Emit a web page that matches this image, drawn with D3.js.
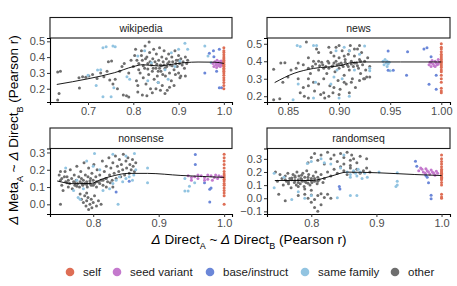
<!DOCTYPE html>
<html>
<head>
<meta charset="utf-8">
<script src="https://cdn.jsdelivr.net/npm/d3@7"></script>
<style>
  body { margin: 0; background: #fff; }
  svg text { font-family: "Liberation Sans", Arial, sans-serif; }
</style>
</head>
<body>
<div id="chart"></div>
<script>
// ---- data ----
const categories = ['self', 'seed variant', 'base/instruct', 'same family', 'other'];
const catColors = ['#DE6E55', '#C479CD', '#6B87D8', '#92C4E1', '#6E6E6E'];
const panelNames = ['wikipedia', 'news', 'nonsense', 'randomseq'];

const xTicks = {
  wikipedia: [0.7, 0.8, 0.9, 1.0],
  news: [0.85, 0.90, 0.95, 1.00],
  nonsense: [0.8, 0.9, 1.0],
  randomseq: [0.8, 0.9, 1.0]
};
const yTicks = {
  wikipedia: [0.2, 0.3, 0.4, 0.5],
  news: [0.2, 0.3, 0.4, 0.5],
  nonsense: [0.0, 0.1, 0.2, 0.3],
  randomseq: [-0.1, 0.0, 0.1, 0.2, 0.3]
};
const xDomains = {
  wikipedia: [0.616, 1.018],
  news: [0.8295, 1.0085],
  nonsense: [0.734, 1.012],
  randomseq: [0.732, 1.013]
};
const yDomains = {
  wikipedia: [0.116, 0.521],
  news: [0.167, 0.533],
  nonsense: [-0.056, 0.323],
  randomseq: [-0.12, 0.379]
};

// wikipedia
const wikiOther = [[0.633,0.306],[0.639,0.31],[0.636,0.17],[0.633,0.128],[0.681,0.204],[0.68,0.27],[0.688,0.275],[0.695,0.272],[0.702,0.28],[0.71,0.29],[0.72,0.265],[0.728,0.3],[0.735,0.275],[0.742,0.31],[0.745,0.37],[0.752,0.375],[0.748,0.255],[0.755,0.23],[0.76,0.26],[0.77,0.31],[0.765,0.2],[0.775,0.34],[0.78,0.36],[0.785,0.155],[0.79,0.148],[0.778,0.16],[0.79,0.3],[0.795,0.38],
  [0.8,0.34],[0.803,0.41],[0.805,0.45],[0.807,0.25],[0.81,0.22],[0.812,0.36],[0.815,0.3],[0.818,0.44],[0.82,0.38],[0.822,0.27],[0.825,0.33],[0.826,0.47],[0.828,0.23],[0.83,0.4],[0.832,0.36],[0.834,0.29],[0.835,0.495],[0.836,0.43],[0.838,0.2],[0.84,0.35],[0.842,0.31],[0.843,0.39],[0.845,0.45],[0.846,0.26],[0.848,0.37],[0.85,0.33],[0.851,0.42],[0.853,0.28],[0.855,0.24],[0.856,0.38],[0.858,0.46],[0.86,0.35],[0.861,0.31],[0.863,0.4],[0.864,0.22],[0.866,0.37],[0.868,0.44],[0.87,0.33],[0.871,0.28],[0.873,0.39],[0.875,0.19],[0.876,0.36],[0.878,0.42],[0.88,0.3],[0.882,0.35],[0.884,0.25],[0.885,0.4],[0.887,0.37],[0.89,0.32],[0.892,0.44],[0.893,0.29],[0.895,0.38],[0.897,0.34],[0.9,0.41],[0.902,0.36],[0.903,0.27],[0.905,0.39],[0.908,0.35],[0.91,0.37],[0.913,0.33],[0.915,0.4],[0.918,0.36],[0.92,0.38],
  [0.81,0.18],[0.82,0.16],[0.83,0.155],[0.842,0.175],[0.85,0.2],[0.86,0.19],[0.87,0.17],[0.88,0.21],[0.89,0.22],[0.905,0.28],[0.915,0.28],
  [0.812,0.32],[0.822,0.345],[0.832,0.325],[0.837,0.37],[0.844,0.33],[0.852,0.355],[0.858,0.33],[0.862,0.345],[0.868,0.35],[0.874,0.34],[0.879,0.37],[0.886,0.345],[0.894,0.36],[0.899,0.38],[0.9,0.3],[0.865,0.29],[0.855,0.31],[0.827,0.39],[0.818,0.41],[0.808,0.38]];
const wikiFamily = [[0.7,0.285],[0.721,0.318],[0.728,0.32],[0.718,0.22],[0.733,0.15],[0.751,0.15],[0.757,0.206],[0.733,0.46],[0.74,0.466],[0.755,0.47],[0.76,0.466],[0.786,0.276],[0.792,0.26],[0.81,0.407],[0.825,0.44],[0.832,0.25],[0.855,0.24],[0.877,0.26],[0.884,0.428],[0.9,0.45],[0.903,0.375],[0.914,0.487],[0.92,0.45],[0.958,0.47],[0.965,0.407],[0.972,0.364],[0.87,0.32],[0.84,0.365],[0.892,0.34]];
const wikiBase = [[0.958,0.3],[0.968,0.424],[0.977,0.44],[0.978,0.402],[0.99,0.45],[0.99,0.206],[0.995,0.206],[0.984,0.31]];
const wikiSeed = [[0.976,0.36],[0.978,0.34],[0.98,0.37],[0.982,0.35],[0.984,0.335],[0.985,0.38],[0.987,0.36],[0.988,0.345],[0.99,0.37],[0.991,0.355],[0.992,0.34],[0.994,0.375],[0.995,0.36],[0.996,0.35],[0.997,0.365],[0.983,0.362]];
const wikiSelf = [0.46,0.44,0.43,0.415,0.40,0.39,0.38,0.37,0.365,0.355,0.345,0.34,0.33,0.32,0.31,0.30,0.285,0.27,0.255,0.24,0.22,0.2];
const wikiSmooth = [[0.631,0.227],[0.7,0.263],[0.758,0.301],[0.8,0.34],[0.821,0.352],[0.855,0.344],[0.884,0.354],[0.914,0.365],[0.943,0.369],[0.98,0.368],[1.0,0.36]];

// news
const newsOther = [[0.836,0.354],[0.843,0.39],[0.847,0.392],[0.836,0.18],[0.842,0.186],[0.845,0.28],[0.85,0.31],[0.853,0.35],[0.858,0.36],[0.86,0.3],[0.862,0.22],[0.865,0.25],[0.868,0.51],[0.866,0.2],[0.87,0.19],[0.872,0.33],[0.874,0.37],[0.876,0.23],[0.878,0.47],[0.88,0.35],[0.882,0.21],[0.884,0.38],[0.885,0.3],[0.886,0.19],[0.888,0.33],[0.889,0.4],[0.89,0.36],[0.891,0.26],[0.892,0.45],[0.893,0.37],[0.894,0.22],[0.895,0.39],[0.896,0.34],[0.897,0.48],[0.898,0.38],[0.899,0.29],[0.9,0.42],[0.9,0.36],[0.901,0.24],[0.902,0.39],[0.903,0.46],[0.904,0.37],[0.905,0.32],[0.906,0.41],[0.907,0.27],[0.908,0.38],[0.909,0.44],[0.91,0.35],[0.911,0.49],[0.912,0.4],[0.913,0.3],[0.914,0.37],[0.915,0.43],[0.916,0.25],[0.917,0.39],[0.918,0.47],[0.919,0.36],[0.92,0.41],[0.921,0.33],[0.922,0.45],[0.923,0.38],[0.924,0.3],[0.925,0.4],[0.926,0.35],[0.927,0.31],[0.928,0.42],[0.93,0.37],[0.93,0.31],
  [0.877,0.385],[0.881,0.375],[0.883,0.395],[0.887,0.37],[0.89,0.39],[0.894,0.375],[0.897,0.4],[0.9,0.385],[0.903,0.38],[0.906,0.395],[0.909,0.37],[0.912,0.385],[0.915,0.39],[0.918,0.375],[0.921,0.4],[0.88,0.4],[0.885,0.36],[0.895,0.43],[0.905,0.43],[0.91,0.46],[0.915,0.47],[0.92,0.49],[0.9,0.49],[0.89,0.48],[0.88,0.45],[0.87,0.42],[0.875,0.4],[0.86,0.39],[0.865,0.38],[0.87,0.36],
  [0.87,0.3],[0.88,0.27],[0.885,0.22],[0.89,0.2],[0.895,0.25],[0.9,0.21],[0.905,0.28],[0.91,0.22],[0.912,0.28],[0.92,0.29],[0.925,0.3],[0.87,0.26],[0.875,0.28]];
const newsFamily = [[0.859,0.49],[0.862,0.485],[0.875,0.49],[0.878,0.49],[0.897,0.46],[0.905,0.48],[0.91,0.46],[0.925,0.487],[0.93,0.36],[0.93,0.345],[0.945,0.41],[0.947,0.4],[0.946,0.39],[0.948,0.385],[0.944,0.38],[0.947,0.37],[0.949,0.395],[0.943,0.4],[0.95,0.345],[0.877,0.28],[0.875,0.19],[0.9,0.19],[0.91,0.2],[0.895,0.31],[0.903,0.3],[0.892,0.27],[0.915,0.35],[0.86,0.27],[0.855,0.18],[0.92,0.44],[0.898,0.35]];
const newsBase = [[0.948,0.458],[0.967,0.454],[0.983,0.47],[0.986,0.477],[0.966,0.32],[0.948,0.348],[0.953,0.348],[0.988,0.268],[0.995,0.32],[0.995,0.24],[0.99,0.426]];
const newsSeed = [[0.988,0.38],[0.989,0.395],[0.99,0.37],[0.991,0.405],[0.992,0.385],[0.993,0.375],[0.994,0.4],[0.995,0.39],[0.996,0.38],[0.997,0.41],[0.998,0.395],[0.99,0.39],[0.994,0.37],[0.997,0.385]];
const newsSelf = [0.5,0.48,0.47,0.455,0.44,0.43,0.42,0.41,0.4,0.395,0.385,0.375,0.365,0.35,0.34,0.32,0.3,0.28,0.245,0.23,0.22];
const newsSmooth = [[0.837,0.278],[0.856,0.331],[0.875,0.359],[0.902,0.376],[0.912,0.392],[0.925,0.396],[0.96,0.396],[1.0,0.396]];

// nonsense
const nonsOther = [[0.748,0.17],[0.75,0.14],[0.752,0.11],[0.754,0.08],[0.757,0.19],[0.758,0.13],[0.76,0.16],[0.762,0.1],[0.764,0.12],[0.765,0.2],[0.767,0.15],[0.768,0.09],[0.77,0.13],[0.771,0.17],[0.772,0.11],[0.774,0.14],[0.775,0.22],[0.776,0.12],[0.778,0.16],[0.779,0.1],[0.78,0.13],[0.781,0.19],[0.782,0.15],[0.784,0.11],[0.785,0.14],[0.786,0.24],[0.787,0.12],[0.788,0.17],[0.79,0.13],[0.791,0.1],[0.792,0.16],[0.793,0.21],[0.795,0.12],[0.796,0.15],[0.797,0.11],[0.798,0.18],[0.8,0.14],[0.801,0.23],[0.802,0.12],[0.804,0.16],[0.805,0.1],[0.806,0.2],[0.808,0.13],[0.81,0.17],[0.812,0.14],[0.814,0.25],[0.815,0.11],[0.817,0.19],[0.819,0.15],[0.82,0.22],[0.822,0.13],[0.824,0.27],[0.825,0.17],[0.827,0.21],[0.829,0.14],[0.83,0.24],[0.832,0.18],[0.834,0.28],[0.835,0.15],[0.837,0.22],[0.839,0.19],[0.84,0.26],[0.842,0.16],[0.843,0.23],[0.845,0.2],[0.846,0.29],[0.848,0.17],[0.85,0.25],[0.851,0.21],[0.853,0.27],[0.855,0.18],[0.856,0.23],[0.858,0.2],[0.86,0.26],[0.861,0.22],[0.863,0.19],[0.865,0.24],
  [0.78,0.06],[0.782,0.03],[0.785,0.01],[0.787,0.05],[0.789,-0.01],[0.79,0.02],[0.792,0.04],[0.793,-0.03],[0.795,0.0],[0.797,0.03],[0.798,-0.02],[0.8,0.01],[0.802,0.05],[0.805,-0.01],[0.808,0.02],[0.75,0.0],[0.812,0.0],[0.79,0.065],
  [0.76,0.125],[0.772,0.125],[0.783,0.12],[0.79,0.115],[0.795,0.135],[0.8,0.11],[0.805,0.13],[0.81,0.12],[0.815,0.14],[0.82,0.15],[0.752,0.15],[0.762,0.14],[0.775,0.105],[0.82,0.1],[0.826,0.125],[0.83,0.1],[0.75,0.19],[0.756,0.16]];
const nonsFamily = [[0.802,0.294],[0.83,0.29],[0.863,0.294],[0.883,0.21],[0.883,0.125],[0.94,0.15],[0.94,0.077],[0.945,0.077],[0.947,0.105],[0.955,0.125],[0.838,0.0],[0.78,0.03],[0.777,0.04],[0.8,0.22],[0.81,0.2],[0.83,0.12],[0.835,0.14],[0.845,0.13],[0.85,0.15],[0.855,0.16],[0.86,0.14],[0.862,0.17],[0.84,0.16],[0.815,0.08],[0.825,0.09],[0.775,0.14],[0.785,0.09],[0.85,0.28],[0.865,0.2],[0.77,0.08],[0.758,0.21],[0.79,0.25]];
const nonsBase = [[0.956,0.288],[0.956,0.23],[0.97,0.125],[0.978,0.087],[0.98,0.095],[0.978,0.013],[0.835,0.071],[0.855,0.134]];
const nonsSeed = [[0.945,0.165],[0.95,0.155],[0.955,0.16],[0.96,0.15],[0.965,0.165],[0.97,0.155],[0.975,0.145],[0.98,0.165],[0.985,0.155],[0.99,0.15],[0.95,0.14],[0.96,0.17],[0.97,0.14],[0.982,0.14],[0.992,0.165],[0.996,0.16],[0.975,0.17],[0.987,0.17]];
const nonsSelf = [0.29,0.27,0.25,0.23,0.21,0.19,0.175,0.165,0.155,0.145,0.135,0.12,0.11,0.095,0.08,0.065,0.05,0.0];
const nonsSmooth = [[0.745,0.135],[0.771,0.119],[0.797,0.121],[0.812,0.144],[0.833,0.167],[0.853,0.179],[0.883,0.179],[0.934,0.167],[1.0,0.156]];

// randomseq
const randOther = [[0.745,0.2],[0.748,0.13],[0.75,0.03],[0.752,0.18],[0.755,0.15],[0.757,0.1],[0.76,0.17],[0.762,0.13],[0.764,0.19],[0.765,0.11],[0.767,0.15],[0.769,0.08],[0.77,0.14],[0.772,0.18],[0.774,0.12],[0.775,0.16],[0.777,0.1],[0.778,0.2],[0.78,0.14],[0.781,0.17],[0.783,0.11],[0.784,0.15],[0.786,0.13],[0.787,0.19],[0.789,0.09],[0.79,0.16],[0.792,0.12],[0.793,0.21],[0.795,0.14],[0.796,0.18],[0.798,0.1],[0.8,0.15],[0.801,0.12],[0.803,0.17],[0.805,0.13],[0.807,0.2],[0.809,0.11],[0.81,0.16],[0.812,0.14],[0.815,0.18],[0.818,0.12],[0.82,0.15],
  [0.76,0.14],[0.765,0.125],[0.77,0.155],[0.775,0.135],[0.78,0.12],[0.785,0.145],[0.79,0.13],[0.795,0.115],[0.8,0.135],[0.805,0.15],[0.81,0.13],[0.775,0.17],[0.785,0.175],[0.795,0.16],[0.78,0.09],[0.79,0.07],
  [0.795,0.27],[0.8,0.31],[0.805,0.34],[0.81,0.29],[0.815,0.33],[0.82,0.26],[0.825,0.35],[0.83,0.3],[0.835,0.33],[0.84,0.28],[0.845,0.34],[0.85,0.31],[0.855,0.35],[0.86,0.29],[0.862,0.33],[0.865,0.3],[0.87,0.27],[0.875,0.32],[0.885,0.3],
  [0.825,0.2],[0.83,0.17],[0.835,0.22],[0.84,0.19],[0.845,0.24],[0.85,0.21],[0.855,0.18],[0.86,0.23],[0.865,0.2],[0.87,0.22],[0.875,0.19],[0.88,0.21],[0.885,0.23],[0.89,0.2],[0.86,0.25],[0.85,0.26],
  [0.79,0.03],[0.795,0.0],[0.8,0.025],[0.805,-0.01],[0.81,0.02],[0.815,0.035],[0.82,0.005],[0.825,0.03],[0.8,-0.03],[0.805,-0.07],[0.81,-0.1],[0.815,-0.05],[0.83,0.0],[0.76,-0.02],[0.8,0.06],[0.78,0.02]];
const randFamily = [[0.743,0.19],[0.743,0.08],[0.758,0.16],[0.794,0.265],[0.8,0.28],[0.82,0.27],[0.83,0.26],[0.845,0.23],[0.855,0.2],[0.86,0.18],[0.865,0.21],[0.87,0.17],[0.875,0.2],[0.878,0.15],[0.882,0.19],[0.886,0.16],[0.86,0.16],[0.868,0.19],[0.872,0.22],[0.904,0.2],[0.932,0.194],[0.932,0.13],[0.93,0.09],[0.932,0.1],[0.84,0.004],[0.87,0.02],[0.86,0.02],[0.8,0.02],[0.79,0.0],[0.77,-0.01],[0.815,0.3],[0.85,0.33],[0.78,0.05]];
const randBase = [[0.96,0.282],[0.962,0.244],[0.976,0.174],[0.978,0.16],[0.984,0.022],[0.984,-0.003],[0.843,0.09],[0.844,0.07],[0.98,0.118]];
const randSeed = [[0.965,0.21],[0.97,0.22],[0.972,0.2],[0.975,0.19],[0.978,0.21],[0.98,0.2],[0.982,0.185],[0.984,0.215],[0.986,0.2],[0.988,0.19],[0.99,0.175],[0.992,0.205],[0.994,0.19],[0.968,0.23],[0.976,0.225]];
const randSelf = [0.33,0.3,0.28,0.26,0.24,0.22,0.21,0.2,0.19,0.18,0.17,0.16,0.15,0.14,0.12,0.1,0.03,0.01,0.0];
const randSmooth = [[0.744,0.135],[0.778,0.135],[0.8,0.135],[0.83,0.168],[0.855,0.199],[0.902,0.194],[0.958,0.181],[1.0,0.173]];

// group them per panel (draw order: other first, self last)
const panelData = {
  wikipedia: { other: wikiOther, family: wikiFamily, base: wikiBase, seed: wikiSeed, self: wikiSelf, smooth: wikiSmooth },
  news: { other: newsOther, family: newsFamily, base: newsBase, seed: newsSeed, self: newsSelf, smooth: newsSmooth },
  nonsense: { other: nonsOther, family: nonsFamily, base: nonsBase, seed: nonsSeed, self: nonsSelf, smooth: nonsSmooth },
  randomseq: { other: randOther, family: randFamily, base: randBase, seed: randSeed, self: randSelf, smooth: randSmooth }
};

// ---- layout ----
const W = 457, H = 286;
const panelBoxes = {
  wikipedia: { x0: 50, x1: 232, y0: 38, y1: 102, s0: 17.5 },
  news: { x0: 267, x1: 450, y0: 38, y1: 102, s0: 17.5 },
  nonsense: { x0: 50, x1: 232, y0: 148.5, y1: 214, s0: 128 },
  randomseq: { x0: 267, x1: 450, y0: 148.5, y1: 214, s0: 128 }
};

const svg = d3.select('#chart').append('svg')
  .attr('width', W).attr('height', H);

const catKey = { self: 0, seed: 1, base: 2, family: 3, other: 4 };

panelNames.forEach(name => {
  const b = panelBoxes[name];
  const d = panelData[name];
  const x = d3.scaleLinear().domain(xDomains[name]).range([b.x0, b.x1]);
  const y = d3.scaleLinear().domain(yDomains[name]).range([b.y1, b.y0]);
  const g = svg.append('g');

  // strip
  g.append('rect')
    .attr('x', b.x0).attr('y', b.s0)
    .attr('width', b.x1 - b.x0).attr('height', b.y0 - b.s0)
    .attr('fill', '#fff').attr('stroke', '#1a1a1a').attr('stroke-width', 1.1);
  g.append('text')
    .attr('x', (b.x0 + b.x1) / 2).attr('y', (b.s0 + b.y0) / 2)
    .attr('dy', '0.36em').attr('text-anchor', 'middle')
    .style('font-size', '10.5px').attr('fill', '#1a1a1a')
    .text(name);

  // points
  const layers = [
    ['other', d.other],
    ['family', d.family],
    ['base', d.base],
    ['seed', d.seed],
    ['self', d.self.map(v => [1.0, v])]
  ];
  layers.forEach(([k, pts]) => {
    g.append('g').selectAll('circle')
      .data(pts).enter().append('circle')
      .attr('cx', p => x(p[0]))
      .attr('cy', p => y(p[1]))
      .attr('r', 1.5)
      .attr('fill', catColors[catKey[k]]);
  });

  // smooth
  g.append('path')
    .datum(d.smooth)
    .attr('fill', 'none').attr('stroke', '#000').attr('stroke-width', 0.9)
    .attr('d', d3.line().x(p => x(p[0])).y(p => y(p[1])).curve(d3.curveMonotoneX));

  // axes
  const fmt = name === 'news' ? d3.format('.2f') : d3.format('.1f');
  const xa = g.append('g')
    .attr('transform', `translate(0,${b.y1})`)
    .call(d3.axisBottom(x).tickValues(xTicks[name]).tickFormat(fmt).tickSize(3).tickPadding(2));
  const ya = g.append('g')
    .attr('transform', `translate(${b.x0},0)`)
    .call(d3.axisLeft(y).tickValues(yTicks[name]).tickFormat(d3.format('.1f')).tickSize(3).tickPadding(2));
  [xa, ya].forEach(a => {
    a.select('.domain').attr('stroke', '#000').attr('stroke-width', 1.1);
    a.selectAll('.tick line').attr('stroke', '#333');
    a.selectAll('.tick text').attr('fill', '#4d4d4d')
      .style('font-size', '11px').style('font-family', '"Liberation Sans", Arial, sans-serif');
  });
});

// axis titles
function titleWithSubs(sel) {
  sel.append('tspan').style('font-style', 'italic').text('\u0394');
  sel.append('tspan').text(' ' + sel.attr('data-a'));
  sel.append('tspan').attr('baseline-shift', 'sub').style('font-size', '9px').text('A');
  sel.append('tspan').text(' ~ ');
  sel.append('tspan').style('font-style', 'italic').text('\u0394');
  sel.append('tspan').text(' Direct');
  sel.append('tspan').attr('baseline-shift', 'sub').style('font-size', '9px').text('B');
  sel.append('tspan').text(' (Pearson r)');
}
svg.append('text')
  .attr('data-a', 'Direct')
  .attr('x', 249).attr('y', 244)
  .attr('text-anchor', 'middle')
  .style('font-size', '13.5px').attr('fill', '#000')
  .call(titleWithSubs);
svg.append('text')
  .attr('data-a', 'Meta')
  .attr('transform', 'translate(18,130) rotate(-90)')
  .attr('text-anchor', 'middle')
  .style('font-size', '13.5px').attr('fill', '#000')
  .call(titleWithSubs);

// legend
const legX = [70, 117, 210, 305, 395];
const leg = svg.append('g');
categories.forEach((c, i) => {
  leg.append('circle').attr('cx', legX[i]).attr('cy', 272).attr('r', 4.3).attr('fill', catColors[i]);
  leg.append('text').attr('x', legX[i] + 13).attr('y', 272).attr('dy', '0.35em')
    .style('font-size', '11.5px').attr('fill', '#1a1a1a').text(c);
});
</script>
</body>
</html>
